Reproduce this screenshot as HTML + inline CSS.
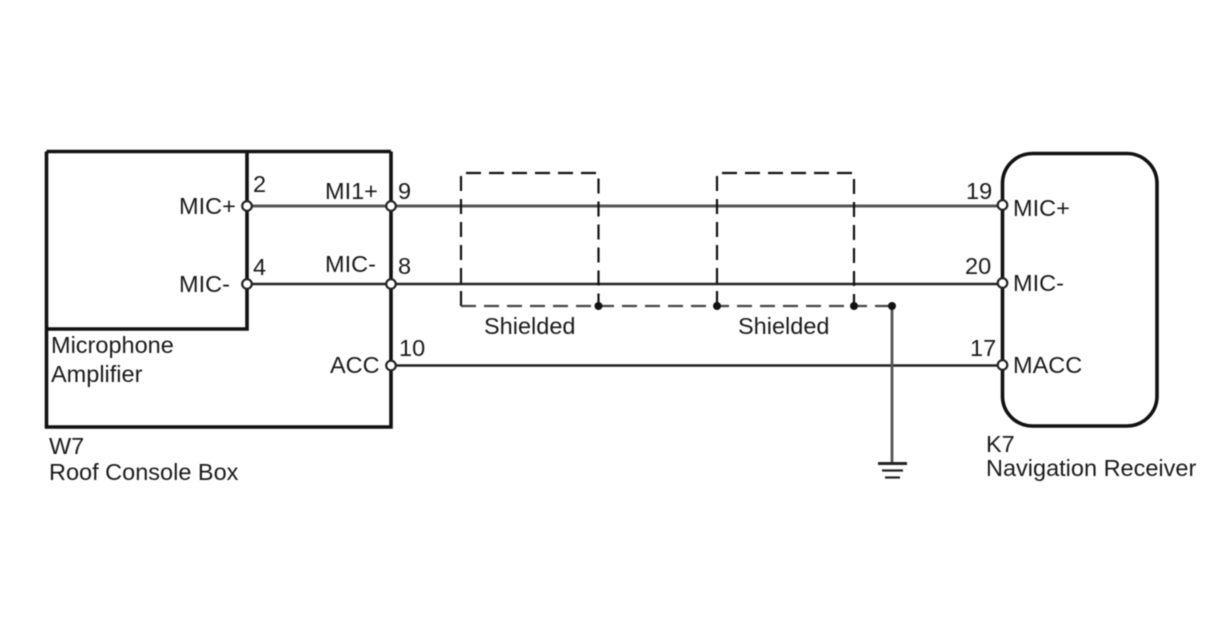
<!DOCTYPE html>
<html><head><meta charset="utf-8"><style>
html,body{margin:0;padding:0;background:#fff}
svg{display:block;filter:blur(.5px)}
text{font-family:"Liberation Sans",sans-serif;font-size:23.5px;fill:#1a1a1a}
</style></head><body>
<svg width="1208" height="644" viewBox="0 0 1208 644" xmlns="http://www.w3.org/2000/svg">
<rect width="1208" height="644" fill="#fff"/>
<g fill="none" stroke="#111">
<path d="M46.5 151.5H391M46.5 151.5V427H391V151.5" stroke-width="3.6"/>
<path d="M46.5 329H247V151.5" stroke-width="3.6"/>
<rect x="1002.5" y="153.5" width="154.5" height="272.5" rx="30" ry="30" stroke-width="3.6"/>
</g>
<g stroke-width="3" stroke="#555"><path d="M247 206H1002"/></g>
<g stroke-width="2.4" stroke="#222"><path d="M247 284H1002M391 365.5H1002"/></g>
<g fill="none" stroke="#111" stroke-width="2.2" stroke-dasharray="15 8">
<path d="M461 306V173H598.5V306"/>
<path d="M717 306V173H854V306"/>
<path d="M461 306H892" stroke="#444"/>
</g>
<path d="M892 306V463" stroke="#555" stroke-width="2.8"/>
<g stroke="#222" fill="none">
<path d="M878 463.5H907" stroke-width="3"/>
<path d="M882 470.5H903" stroke-width="2.2"/>
<path d="M885 477.5H900" stroke-width="2.2"/>
</g>
<g fill="#111">
<circle cx="598.5" cy="306" r="4"/><circle cx="717" cy="306" r="4"/><circle cx="854" cy="306" r="4"/><circle cx="892" cy="306" r="4"/>
</g>
<g fill="#fff" stroke="#222" stroke-width="2.2">
<circle cx="247" cy="206" r="4.8"/><circle cx="247" cy="284" r="4.8"/>
<circle cx="391" cy="206" r="4.8"/><circle cx="391" cy="284" r="4.8"/><circle cx="391" cy="365.5" r="4.8"/>
<circle cx="1002.5" cy="205" r="4.8"/><circle cx="1002.5" cy="283" r="4.8"/><circle cx="1002.5" cy="365" r="4.8"/>
</g>
<text x="179" y="214">MIC+</text>
<text x="179" y="292">MIC-</text>
<text x="253" y="192">2</text>
<text x="253" y="275">4</text>
<text x="325" y="199">MI1+</text>
<text x="325" y="272">MIC-</text>
<text x="398" y="199">9</text>
<text x="398" y="274">8</text>
<text x="399" y="356">10</text>
<text x="330" y="373">ACC</text>
<text x="51" y="353">Microphone</text>
<text x="51" y="382">Amplifier</text>
<text x="49" y="454">W7</text>
<text x="49" y="480">Roof Console Box</text>
<text x="484" y="334">Shielded</text>
<text x="738" y="334">Shielded</text>
<text x="966" y="199">19</text>
<text x="965" y="274">20</text>
<text x="970" y="356">17</text>
<text x="1013" y="216">MIC+</text>
<text x="1013" y="291">MIC-</text>
<text x="1013" y="373">MACC</text>
<text x="986" y="452">K7</text>
<text x="986" y="476">Navigation Receiver</text>
</svg>
</body></html>
